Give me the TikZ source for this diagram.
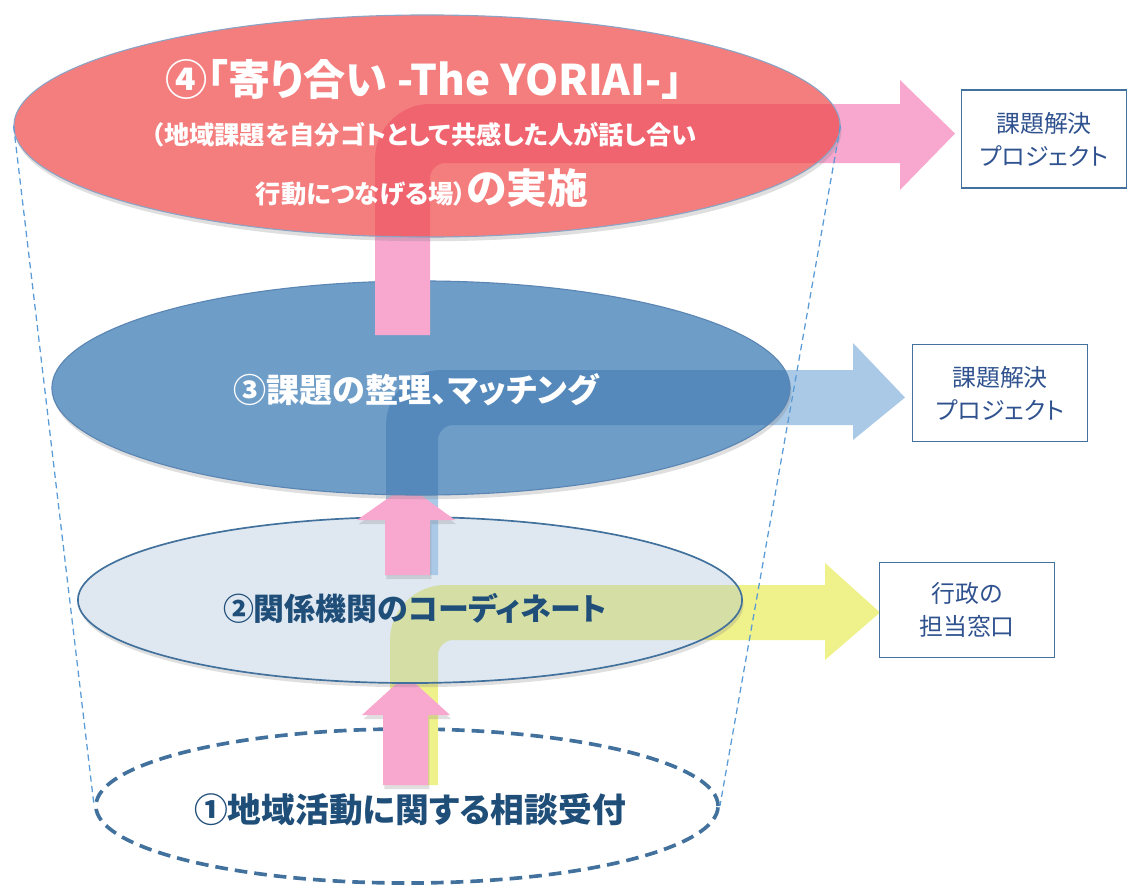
\documentclass[tikz,border=0pt]{standalone}
\usepackage{fontspec}
\setmainfont{Noto Sans CJK JP}[RawFeature=+palt]
\usepackage{xcolor}
\usetikzlibrary{shapes.geometric,positioning,shadows}
\definecolor{redfill}{HTML}{F47D7D}
\definecolor{redband}{HTML}{F0646F}
\definecolor{rededge}{HTML}{8DA3C4}
\definecolor{bluefill}{HTML}{6E9DC8}
\definecolor{blueband}{HTML}{5589BC}
\definecolor{blueedge}{HTML}{5B86B3}
\definecolor{lightfill}{HTML}{DFE8F1}
\definecolor{lightedge}{HTML}{41719C}
\definecolor{yellowband}{HTML}{D5DFA5}
\definecolor{pinkarr}{HTML}{F8A7CF}
\definecolor{bluearr}{HTML}{A9C9E7}
\definecolor{yellowarr}{HTML}{EFF18A}
\definecolor{darktxt}{HTML}{1F4E79}
\definecolor{boxedge}{HTML}{41719C}
\definecolor{boxtxt}{HTML}{2F528F}
\definecolor{funnel}{HTML}{5B9BD5}
% bent block arrow: left, right, bottom, top, lower edge, head x, head top, head bottom, tip x
\newcommand{\bentpath}[9]{(#1,#3) -- (#1,{#4+55}) .. controls (#1,{#4+25}) and ({#1+25},#4) .. ({#1+55},#4) -- (#6,#4) -- (#6,#7) -- (#9,{(#4+#5)/2}) -- (#6,#8) -- (#6,#5) -- ({#2+15},#5) .. controls ({#2+7},#5) and (#2,{#5+7}) .. (#2,{#5+15}) -- (#2,#3) -- cycle}

\begin{document}
\begin{tikzpicture}[x=0.025cm,y=-0.025cm,
  ell/.style 2 args={ellipse,inner sep=0pt,minimum width=#1,minimum height=#2},
  shade/.style={drop shadow={opacity=.25,shadow xshift=1pt,shadow yshift=-3pt}},
  wtxt/.style={text=white,font=\bfseries},
  dtxt/.style={text=darktxt,font=\bfseries\fontsize{22}{26}\selectfont},
  box/.style={rectangle,draw=boxedge,line width=1pt,text=boxtxt,align=center,font=\fontsize{17}{23.5}\selectfont},
  funnelline/.style={draw=funnel,line width=.9pt,dash pattern=on 4.5pt off 3pt}
]
\useasboundingbox (0,0) rectangle (1130,888);
% level 1
\node[ell={15.55cm}{3.85cm},draw=lightedge,line width=2.6pt,dash pattern=on 9pt off 5pt] (e1) at (407,806) {};
\fill[yellowarr] \bentpath{390}{438}{785}{585}{640}{825}{563}{660}{880};
\fill[pinkarr,shade] (383,785) -- (383,715) -- (362,715) -- (406,675) -- (450,715) -- (428,715) -- (428,785) -- cycle;
% level 2
\node[ell={16.6cm}{4.15cm},fill=lightfill,shade] (e2) at (410,600) {};
\begin{scope}
\clip (e2.center) ellipse [x radius=8.3cm,y radius=2.075cm];
\fill[yellowband] \bentpath{390}{438}{785}{585}{640}{825}{563}{660}{880};
\end{scope}
\draw[lightedge,line width=1.2pt] (e2.center) ellipse [x radius=8.3cm,y radius=2.075cm];
\fill[bluearr] \bentpath{386}{438}{575}{370}{425}{853}{343}{440}{905};
\fill[pinkarr,shade] (385,575) -- (385,520) -- (357,520) -- (407,485) -- (455,520) -- (430,520) -- (430,575) -- cycle;
% level 3
\node[ell={18.45cm}{5.35cm},fill=bluefill,shade] (e3) at (421,388) {};
\begin{scope}
\clip (e3.center) ellipse [x radius=9.225cm,y radius=2.675cm];
\fill[blueband] \bentpath{386}{438}{575}{370}{425}{853}{343}{440}{905};
\end{scope}
\draw[blueedge,line width=.8pt] (e3.center) ellipse [x radius=9.225cm,y radius=2.675cm];
\fill[pinkarr] \bentpath{375}{430}{335}{104}{163}{900}{80}{190}{955};
% level 4
\node[ell={20.65cm}{5.55cm},fill=redfill,shade] (e4) at (427,126) {};
\begin{scope}
\clip (e4.center) ellipse [x radius=10.325cm,y radius=2.775cm];
\fill[redband] \bentpath{375}{430}{335}{104}{163}{900}{80}{190}{955};
\end{scope}
\draw[rededge,line width=.8pt] (e4.center) ellipse [x radius=10.325cm,y radius=2.775cm];
\draw[funnelline] (e4.west) -- (e1.west);
\draw[funnelline] (e4.east) -- (e1.east);
% texts
\node[wtxt,font=\bfseries\fontsize{30}{34}\selectfont] (t4a) at (424,80) {④「寄り合い -The YORIAI-」};
\node[wtxt,font=\bfseries\fontsize{18}{21}\selectfont] (t4b) at (424,135) {（地域課題を自分ゴトとして共感した人が話し合い};
\node[wtxt] (t4c) at (422,188) {{\fontsize{18}{21}\selectfont 行動につなげる場）}{\fontsize{29}{33}\selectfont の実施}};
\node[wtxt,font=\bfseries\fontsize{23.5}{27}\selectfont] (t3) at (416,390) {③課題の整理、マッチング};
\node[dtxt] (t2) at (415,608) {②関係機関のコーディネート};
\node[dtxt,font=\bfseries\fontsize{24}{28}\selectfont] (t1) at (410,810) {①地域活動に関する相談受付};
\node[box,minimum width=4.125cm,minimum height=2.45cm] (b4) at (1044,139) {課題解決\\プロジェクト};
\node[box,minimum width=4.375cm,minimum height=2.43cm] (b3) at (1000,393) {課題解決\\プロジェクト};
\node[box,minimum width=4.375cm,minimum height=2.38cm] (b2) at (967,610) {行政の\\担当窓口};
\end{tikzpicture}
\end{document}
